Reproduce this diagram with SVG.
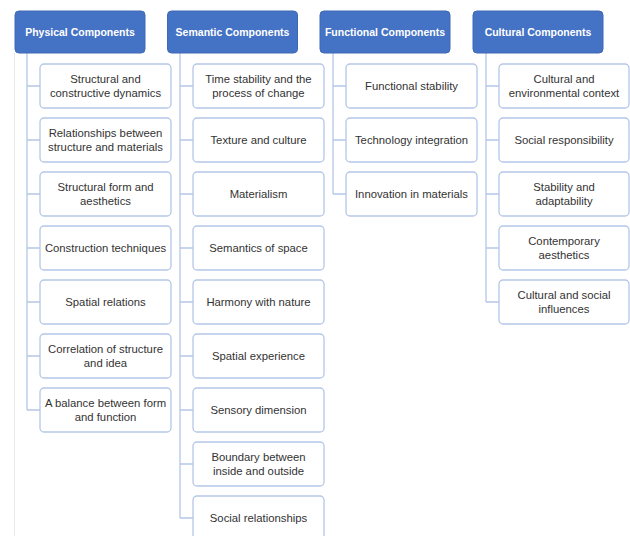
<svg xmlns="http://www.w3.org/2000/svg" width="630" height="536" viewBox="0 0 630 536">
<style>
.hd{fill:#4472c4;stroke:#3f69b5;stroke-width:1}
.ht{font-family:"Liberation Sans",Arial,sans-serif;font-weight:bold;font-size:10.5px;fill:#ffffff;text-anchor:middle}
.bx{fill:#ffffff;stroke:#b4c7e7;stroke-width:1.3}
.bt{font-family:"Liberation Sans",Arial,sans-serif;font-size:11.3px;fill:#333333;text-anchor:middle}
.cn{fill:none;stroke:#b4c7e7;stroke-width:1.3}
</style>
<rect width="630" height="536" fill="#ffffff"/>
<line x1="14.5" y1="53" x2="14.5" y2="536" stroke="#e8e8e8" stroke-width="1"/>
<g id="connectors">
<path class="cn" d="M27 53V410M27 86H40M27 140H40M27 194H40M27 248H40M27 302H40M27 356H40M27 410H40"/>
<path class="cn" d="M180 53V518M180 86H193M180 140H193M180 194H193M180 248H193M180 302H193M180 356H193M180 410H193M180 464H193M180 518H193"/>
<path class="cn" d="M333 53V194M333 86H346M333 140H346M333 194H346"/>
<path class="cn" d="M486 53V302M486 86H499M486 140H499M486 194H499M486 248H499M486 302H499"/>
</g>
<g id="h-physical"><rect class="hd" x="15" y="11" width="130" height="42" rx="4"/><text class="ht" x="80" y="36">Physical Components</text></g>
<g id="h-semantic"><rect class="hd" x="167.5" y="11" width="130" height="42" rx="4"/><text class="ht" x="232.5" y="36">Semantic Components</text></g>
<g id="h-functional"><rect class="hd" x="320" y="11" width="130" height="42" rx="4"/><text class="ht" x="385" y="36">Functional Components</text></g>
<g id="h-cultural"><rect class="hd" x="473" y="11" width="130" height="42" rx="4"/><text class="ht" x="538" y="36">Cultural Components</text></g>

<g id="p1"><rect class="bx" x="40" y="64" width="131" height="44" rx="4"/><text class="bt" x="105.5" y="83">Structural and</text><text class="bt" x="105.5" y="96.5">constructive dynamics</text></g>
<g id="p2"><rect class="bx" x="40" y="118" width="131" height="44" rx="4"/><text class="bt" x="105.5" y="137">Relationships between</text><text class="bt" x="105.5" y="150.5">structure and materials</text></g>
<g id="p3"><rect class="bx" x="40" y="172" width="131" height="44" rx="4"/><text class="bt" x="105.5" y="191">Structural form and</text><text class="bt" x="105.5" y="204.5">aesthetics</text></g>
<g id="p4"><rect class="bx" x="40" y="226" width="131" height="44" rx="4"/><text class="bt" x="105.5" y="252">Construction techniques</text></g>
<g id="p5"><rect class="bx" x="40" y="280" width="131" height="44" rx="4"/><text class="bt" x="105.5" y="306">Spatial relations</text></g>
<g id="p6"><rect class="bx" x="40" y="334" width="131" height="44" rx="4"/><text class="bt" x="105.5" y="353">Correlation of structure</text><text class="bt" x="105.5" y="366.5">and idea</text></g>
<g id="p7"><rect class="bx" x="40" y="388" width="131" height="44" rx="4"/><text class="bt" x="105.5" y="407">A balance between form</text><text class="bt" x="105.5" y="420.5">and function</text></g>

<g id="s1"><rect class="bx" x="193" y="64" width="131" height="44" rx="4"/><text class="bt" x="258.5" y="83">Time stability and the</text><text class="bt" x="258.5" y="96.5">process of change</text></g>
<g id="s2"><rect class="bx" x="193" y="118" width="131" height="44" rx="4"/><text class="bt" x="258.5" y="144">Texture and culture</text></g>
<g id="s3"><rect class="bx" x="193" y="172" width="131" height="44" rx="4"/><text class="bt" x="258.5" y="198">Materialism</text></g>
<g id="s4"><rect class="bx" x="193" y="226" width="131" height="44" rx="4"/><text class="bt" x="258.5" y="252">Semantics of space</text></g>
<g id="s5"><rect class="bx" x="193" y="280" width="131" height="44" rx="4"/><text class="bt" x="258.5" y="306">Harmony with nature</text></g>
<g id="s6"><rect class="bx" x="193" y="334" width="131" height="44" rx="4"/><text class="bt" x="258.5" y="360">Spatial experience</text></g>
<g id="s7"><rect class="bx" x="193" y="388" width="131" height="44" rx="4"/><text class="bt" x="258.5" y="414">Sensory dimension</text></g>
<g id="s8"><rect class="bx" x="193" y="442" width="131" height="44" rx="4"/><text class="bt" x="258.5" y="461">Boundary between</text><text class="bt" x="258.5" y="474.5">inside and outside</text></g>
<g id="s9"><rect class="bx" x="193" y="496" width="131" height="44" rx="4"/><text class="bt" x="258.5" y="522">Social relationships</text></g>

<g id="f1"><rect class="bx" x="346" y="64" width="131" height="44" rx="4"/><text class="bt" x="411.5" y="90">Functional stability</text></g>
<g id="f2"><rect class="bx" x="346" y="118" width="131" height="44" rx="4"/><text class="bt" x="411.5" y="144">Technology integration</text></g>
<g id="f3"><rect class="bx" x="346" y="172" width="131" height="44" rx="4"/><text class="bt" x="411.5" y="198">Innovation in materials</text></g>

<g id="c1"><rect class="bx" x="499" y="64" width="130" height="44" rx="4"/><text class="bt" x="564" y="83">Cultural and</text><text class="bt" x="564" y="96.5">environmental context</text></g>
<g id="c2"><rect class="bx" x="499" y="118" width="130" height="44" rx="4"/><text class="bt" x="564" y="144">Social responsibility</text></g>
<g id="c3"><rect class="bx" x="499" y="172" width="130" height="44" rx="4"/><text class="bt" x="564" y="191">Stability and</text><text class="bt" x="564" y="204.5">adaptability</text></g>
<g id="c4"><rect class="bx" x="499" y="226" width="130" height="44" rx="4"/><text class="bt" x="564" y="245">Contemporary</text><text class="bt" x="564" y="258.5">aesthetics</text></g>
<g id="c5"><rect class="bx" x="499" y="280" width="130" height="44" rx="4"/><text class="bt" x="564" y="299">Cultural and social</text><text class="bt" x="564" y="312.5">influences</text></g>
</svg>
